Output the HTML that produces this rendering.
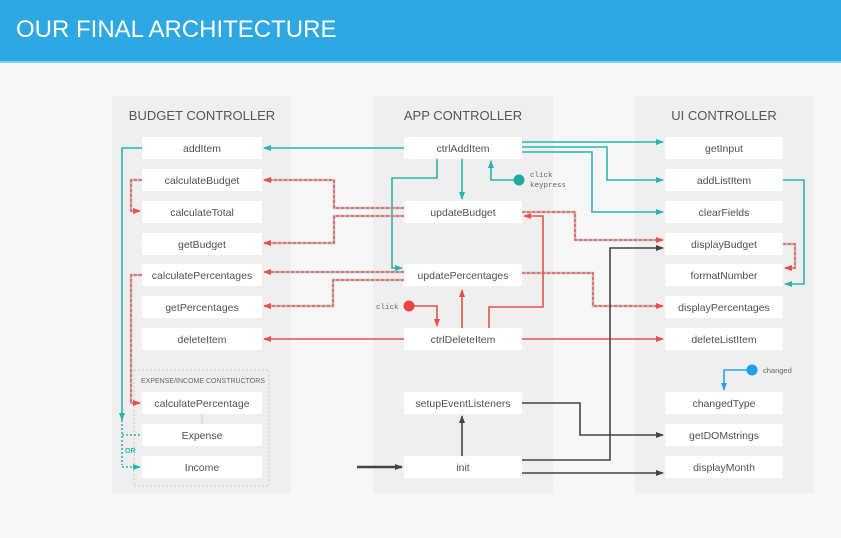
<!DOCTYPE html>
<html><head><meta charset="utf-8"><style>
body{margin:0;width:841px;height:533px;overflow:hidden;background:#f7f7f7;font-family:"Liberation Sans",sans-serif}
</style></head><body>
<svg width="841" height="533" xmlns="http://www.w3.org/2000/svg" font-family="Liberation Sans, sans-serif">
<defs>
<marker id="at" markerWidth="8" markerHeight="6" refX="7" refY="3" orient="auto" markerUnits="userSpaceOnUse"><path d="M0,0L8,3L0,6z" fill="#2bb3b3"/></marker>
<marker id="ar" markerWidth="8" markerHeight="6" refX="7" refY="3" orient="auto" markerUnits="userSpaceOnUse"><path d="M0,0L8,3L0,6z" fill="#e8504a"/></marker>
<marker id="ad" markerWidth="8" markerHeight="6" refX="7" refY="3" orient="auto" markerUnits="userSpaceOnUse"><path d="M0,0L8,3L0,6z" fill="#444"/></marker>
<marker id="ab" markerWidth="8" markerHeight="6" refX="7" refY="3" orient="auto" markerUnits="userSpaceOnUse"><path d="M0,0L8,3L0,6z" fill="#2aa3e6"/></marker>
</defs>
<rect x="0" y="0" width="841" height="61" fill="#2ea8e3"/>
<rect x="0" y="61" width="841" height="2" fill="#7fd0f5"/>
<text x="16" y="37" font-size="24" fill="#fff">OUR FINAL ARCHITECTURE</text>
<rect x="112" y="96" width="179" height="397" fill="#efefef"/>
<rect x="373" y="96" width="180" height="397" fill="#efefef"/>
<rect x="635" y="96" width="179" height="397" fill="#efefef"/>
<g font-size="13" fill="#555" text-anchor="middle">
<text x="202" y="120">BUDGET CONTROLLER</text>
<text x="463" y="120">APP CONTROLLER</text>
<text x="724" y="120">UI CONTROLLER</text>
</g>
<rect x="134" y="370" width="135" height="116" fill="none" stroke="#ccc" stroke-dasharray="2,2"/>
<text x="141" y="383" font-size="7" fill="#666">EXPENSE/INCOME CONSTRUCTORS</text>
<line x1="202" y1="414" x2="202" y2="424" stroke="#ccc"/>
<g fill="#fff">
<rect x="142" y="137" width="120" height="22"/><rect x="142" y="169" width="120" height="22"/><rect x="142" y="201" width="120" height="22"/><rect x="142" y="233" width="120" height="22"/><rect x="142" y="264" width="120" height="22"/><rect x="142" y="296" width="120" height="22"/><rect x="142" y="328" width="120" height="22"/><rect x="142" y="392" width="120" height="22"/><rect x="142" y="424" width="120" height="22"/><rect x="142" y="456" width="120" height="22"/>
<rect x="404" y="137" width="118" height="22"/><rect x="404" y="201" width="118" height="22"/><rect x="404" y="264" width="118" height="22"/><rect x="404" y="328" width="118" height="22"/><rect x="404" y="392" width="118" height="22"/><rect x="404" y="456" width="118" height="22"/>
<rect x="665" y="137" width="118" height="22"/><rect x="665" y="169" width="118" height="22"/><rect x="665" y="201" width="118" height="22"/><rect x="665" y="233" width="118" height="22"/><rect x="665" y="264" width="118" height="22"/><rect x="665" y="296" width="118" height="22"/><rect x="665" y="328" width="118" height="22"/><rect x="665" y="392" width="118" height="22"/><rect x="665" y="424" width="118" height="22"/><rect x="665" y="456" width="118" height="22"/>
</g>
<g font-size="10.5" fill="#505050" text-anchor="middle">
<text x="202" y="152">addItem</text><text x="202" y="184">calculateBudget</text><text x="202" y="216">calculateTotal</text><text x="202" y="248">getBudget</text><text x="202" y="279">calculatePercentages</text><text x="202" y="311">getPercentages</text><text x="202" y="343">deleteItem</text><text x="202" y="407">calculatePercentage</text><text x="202" y="439">Expense</text><text x="202" y="471">Income</text>
<text x="463" y="152">ctrlAddItem</text><text x="463" y="216">updateBudget</text><text x="463" y="279">updatePercentages</text><text x="463" y="343">ctrlDeleteItem</text><text x="463" y="407">setupEventListeners</text><text x="463" y="471">init</text>
<text x="724" y="152">getInput</text><text x="724" y="184">addListItem</text><text x="724" y="216">clearFields</text><text x="724" y="248">displayBudget</text><text x="724" y="279">formatNumber</text><text x="724" y="311">displayPercentages</text><text x="724" y="343">deleteListItem</text><text x="724" y="407">changedType</text><text x="724" y="439">getDOMstrings</text><text x="724" y="471">displayMonth</text>
</g>
<g stroke="#2bb3b3" stroke-width="1.6" fill="none">
<path d="M404,148H264" marker-end="url(#at)"/>
<path d="M522,142H663" marker-end="url(#at)"/>
<path d="M522,147H607V180H663" marker-end="url(#at)"/>
<path d="M522,152H592V212H663" marker-end="url(#at)"/>
<path d="M462,159V199" marker-end="url(#at)"/>
<path d="M519,180H491V161" marker-end="url(#at)"/>
<path d="M437,159V178H392V268H402" marker-end="url(#at)"/>
<path d="M142,148H122V420" marker-end="url(#at)"/>
<path d="M783,180H804V284H785" marker-end="url(#at)"/>
<path d="M122,420V465" stroke-dasharray="2,2"/>
<path d="M122,435H140M122,467H140" stroke-dasharray="2,2" marker-end="url(#at)"/>
</g>
<circle cx="519" cy="180" r="5.5" fill="#1eaaa0"/>
<text x="530" y="177" font-size="7.5" fill="#666" font-family="Liberation Mono, monospace">click</text>
<text x="530" y="187" font-size="7.5" fill="#666" font-family="Liberation Mono, monospace">keypress</text>
<text x="125" y="453" font-size="7" fill="#2bb3b3" font-weight="bold">OR</text>
<g fill="none" stroke-width="2.4" stroke="#c9b4b0">
<path d="M404,208H334V180H264"/><path d="M404,216H334V243H264"/><path d="M522,212H575V240H663"/>
<path d="M142,180H131V211H140"/><path d="M404,272H264"/><path d="M404,280H333V306H264"/>
<path d="M522,273H593V306H663"/><path d="M142,275H131V403H140"/><path d="M783,244H795V268H785"/>
</g>
<g fill="none" stroke-width="1.3" stroke="#e8504a" stroke-dasharray="3,2">
<path d="M404,208H334V180H264" marker-end="url(#ar)"/><path d="M404,216H334V243H264" marker-end="url(#ar)"/><path d="M522,212H575V240H663" marker-end="url(#ar)"/>
<path d="M142,180H131V211H140" marker-end="url(#ar)"/><path d="M404,272H264" marker-end="url(#ar)"/><path d="M404,280H333V306H264" marker-end="url(#ar)"/>
<path d="M522,273H593V306H663" marker-end="url(#ar)"/><path d="M142,275H131V403H140" marker-end="url(#ar)"/><path d="M783,244H795V268H785" marker-end="url(#ar)"/>
</g>
<g stroke="#e8504a" stroke-width="1.6" fill="none">
<path d="M404,339H264" marker-end="url(#ar)"/>
<path d="M522,339H663" marker-end="url(#ar)"/>
<path d="M409,306H437V326" marker-end="url(#ar)"/>
<path d="M462,328V290" marker-end="url(#ar)"/>
<path d="M489,328V307H543V216H524" marker-end="url(#ar)"/>
</g>
<circle cx="409" cy="306" r="5.5" fill="#f04040"/>
<text x="376" y="309" font-size="7.5" fill="#666" font-family="Liberation Mono, monospace">click</text>
<g stroke="#444" stroke-width="1.6" fill="none">
<path d="M357,467H402" stroke-width="2.5" marker-end="url(#ad)"/>
<path d="M462,456V416" marker-end="url(#ad)"/>
<path d="M522,460H610V248H663" marker-end="url(#ad)"/>
<path d="M522,473H663" marker-end="url(#ad)"/>
<path d="M522,403H580V435H663" marker-end="url(#ad)"/>
</g>
<path d="M752,370H724V390" stroke="#2aa3e6" stroke-width="1.6" fill="none" marker-end="url(#ab)"/>
<circle cx="752" cy="370" r="5.5" fill="#1e9fe8"/>
<text x="763" y="373" font-size="7.5" fill="#666">changed</text>
</svg>
</body></html>
